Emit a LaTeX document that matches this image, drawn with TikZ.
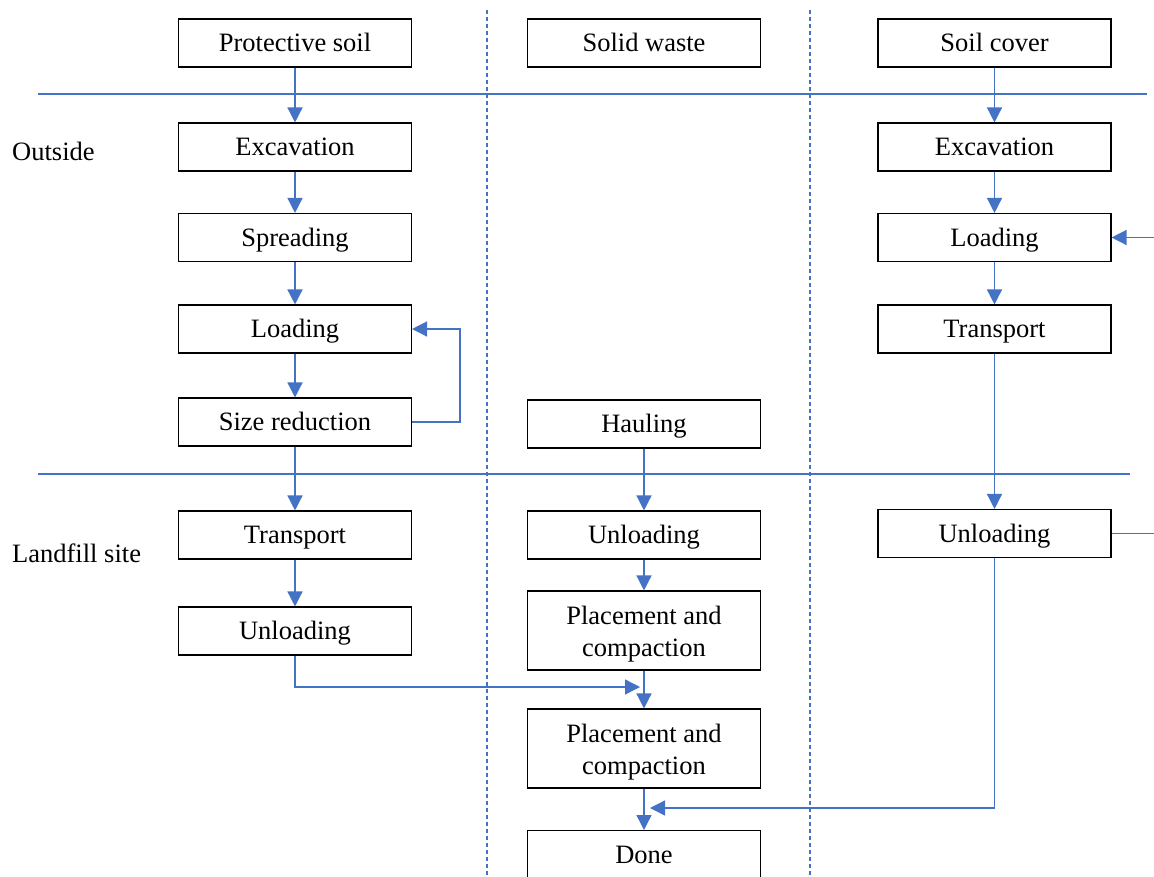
\documentclass[tikz,border=0pt]{standalone}
\usepackage{fontspec}
\setmainfont{Liberation Serif}
\usetikzlibrary{arrows.meta}
\definecolor{ablue}{RGB}{68,114,196}
\newcommand{\twoline}[2]{\raisebox{0pt}[10pt][21.6pt]{\begin{tabular}[t]{@{}c@{}}#1\\#2\end{tabular}}}
\begin{document}
\begin{tikzpicture}[x=1pt,y=-1pt,
  box/.style={draw=black,line width=1.1pt,minimum width=233pt,minimum height=48pt,inner sep=0pt,font=\fontsize{26.5}{32}\selectfont,text height=19pt,text depth=1.5pt},
  tall/.style={draw=black,line width=1.1pt,minimum width=233pt,minimum height=79pt,inner sep=0pt,font=\fontsize{26.5}{32}\selectfont},
  conn/.style={draw=ablue,line width=1.4pt,-{Triangle[width=15pt,length=15pt]}},
  plain/.style={draw=ablue,line width=1.4pt},
  sep/.style={draw=ablue,line width=1.2pt},
  lane/.style={draw=ablue,line width=1.3pt,dash pattern=on 4pt off 3pt},
  lbl/.style={anchor=west,inner sep=0pt,font=\fontsize{26.5}{32}\selectfont,text height=19pt,text depth=1.5pt}]
\useasboundingbox (0,0) rectangle (1154,876);
% separators
\draw[sep] (38,94) -- (1147,94);
\draw[sep] (38,474) -- (1130,474);
\draw[lane] (487,10) -- (487,876);
\draw[lane] (810,10) -- (810,876);
\node[lbl] (outside) at (12,152) {Outside};
\node[lbl] (landfill) at (12,553.5) {Landfill site};
% column 1
\node[box] (ps) at (295,43) {Protective soil};
\node[box] (ex1) at (295,147) {Excavation};
\node[box] (sp1) at (295,237.5) {Spreading};
\node[box] (lo1) at (295,329) {Loading};
\node[box] (sr1) at (295,422) {Size reduction};
\node[box] (tr1) at (295,535) {Transport};
\node[box] (un1) at (295,631) {Unloading};
% column 2
\node[box] (sw) at (644,43) {Solid waste};
\node[box] (ha) at (644,424) {Hauling};
\node[box] (un2) at (644,535) {Unloading};
\node[tall] (pc1) at (644,630.5) {\twoline{Placement and}{compaction}};
\node[tall] (pc2) at (644,748.5) {\twoline{Placement and}{compaction}};
\node[box,anchor=north] (done) at (644,830) {Done};
% column 3
\node[box] (sc) at (994.5,43) {Soil cover};
\node[box] (ex3) at (994.5,147) {Excavation};
\node[box] (lo3) at (994.5,237.5) {Loading};
\node[box] (tr3) at (994.5,329) {Transport};
\node[box] (un3) at (994.5,533.5) {Unloading};
\coordinate (rin) at (1154,237.5);
\coordinate (rout) at (1154,533.5);
% column 1 connectors
\draw[conn] (ps) -- (ex1);
\draw[conn] (ex1) -- (sp1);
\draw[conn] (sp1) -- (lo1);
\draw[conn] (lo1) -- (sr1);
\draw[conn] (sr1) -- (tr1);
\draw[conn] (tr1) -- (un1);
\draw[conn] (sr1.east) -- (460,422) -- (460,329) -- (lo1.east);
\draw[conn] (un1.south) -- (295,687) -- (640,687);
% column 2 connectors
\draw[conn] (ha) -- (un2);
\draw[conn] (un2) -- (pc1);
\draw[conn] (pc1) -- (pc2);
\draw[conn] (pc2) -- (done);
% column 3 connectors
\draw[conn] (sc) -- (ex3);
\draw[conn] (ex3) -- (lo3);
\draw[conn] (lo3) -- (tr3);
\draw[conn] (tr3) -- (un3);
\draw[conn] (rin) -- (lo3.east);
\draw[plain] (un3.east) -- (rout);
\draw[conn] (un3.south) -- (994.5,808) -- (650,808);
\end{tikzpicture}
\end{document}
